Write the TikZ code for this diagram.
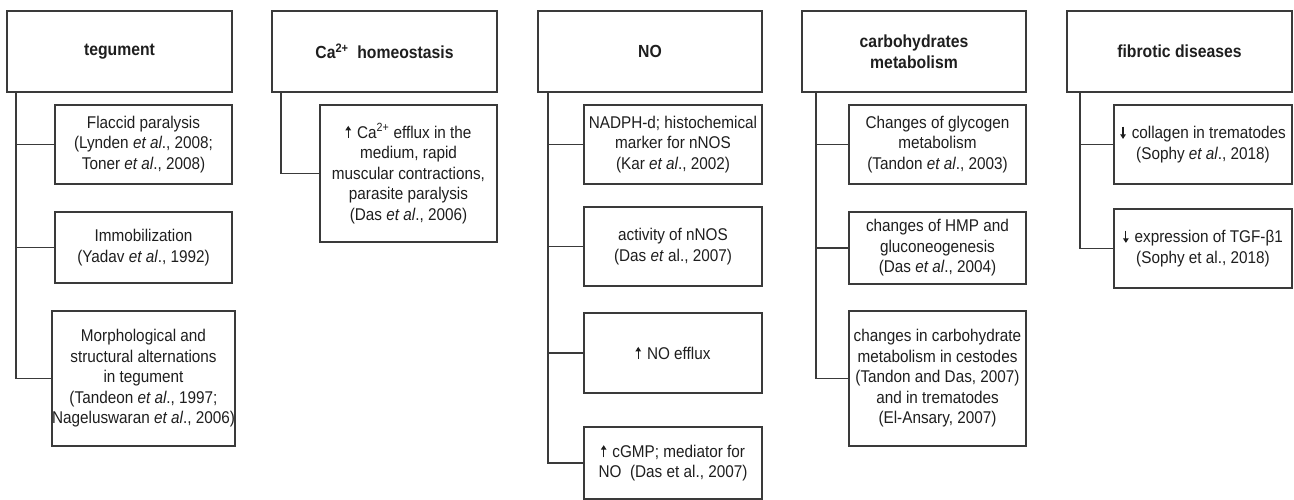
\documentclass[tikz,border=0pt]{standalone}
\usepackage{fontspec}
\usetikzlibrary{arrows.meta}
\setmainfont[FakeStretch=0.9]{Liberation Sans}
\definecolor{linec}{HTML}{3A3A3A}
\definecolor{textc}{HTML}{1E1E1E}
\newcommand{\uparr}{\tikz[baseline=0pt,x=1pt,y=1pt]\draw[line width=1.2pt,textc,-{Triangle[length=4.5pt,width=5.5pt]}] (0,0)--(0,12.2);\hspace{6pt}}
\newcommand{\dnarr}{\tikz[baseline=0pt,x=1pt,y=1pt]\draw[line width=1.2pt,textc,-{Triangle[length=4.5pt,width=5.5pt]}] (0,12.2)--(0,0);\hspace{6pt}}
\begin{document}
\begin{tikzpicture}[x=1pt,y=-1pt,
  box/.style={draw=linec, line width=1.2pt, rectangle, inner sep=0pt, align=center, text=textc},
  headbox/.style={box, minimum width=#1, minimum height=81, font=\fontsize{17.5}{21}\selectfont\bfseries},
  itembox/.style={box, font=\fontsize{17}{20.5}\selectfont},
  conn/.style={draw=linec, line width=1.2pt}
]
\useasboundingbox (0,0) rectangle (1294,500);

% Column 1: tegument
\node[headbox=225] (h1) at (119.5,51.5) {tegument};
\node[itembox, minimum width=177, minimum height=79] (a1) at (143.5,144.5)
  {Flaccid paralysis\\(Lynden \textit{et al}., 2008;\\Toner \textit{et al}., 2008)};
\node[itembox, minimum width=177, minimum height=71] (a2) at (143.5,247.5)
  {Immobilization\\(Yadav \textit{et al}., 1992)};
\node[itembox, minimum width=177, minimum height=135] (a3) at (143.5,378.5)
  {Morphological and\\structural alternations\\in tegument\\(Tandeon \textit{et al}., 1997;\\Nageluswaran \textit{et al}., 2006)};
\coordinate (t1) at (16,92);
\draw[conn] (t1) |- (a3.west);
\draw[conn] (t1 |- a1.west) -- (a1.west);
\draw[conn] (t1 |- a2.west) -- (a2.west);

% Column 2: Ca homeostasis
\node[headbox=225] (h2) at (384.5,51.5) {Ca\textsuperscript{2+}\ \ homeostasis};
\node[itembox, minimum width=177, minimum height=137] (b1) at (408.5,173.5)
  {\uparr Ca\textsuperscript{2+} efflux in the\\medium, rapid\\muscular contractions,\\parasite paralysis\\(Das \textit{et al}., 2006)};
\coordinate (t2) at (281,92);
\draw[conn] (t2) |- (b1.west);

% Column 3: NO
\node[headbox=224] (h3) at (650,51.5) {NO};
\node[itembox, minimum width=178, minimum height=79] (c1) at (673,144.5)
  {NADPH-d; histochemical\\marker for nNOS\\(Kar \textit{et al}., 2002)};
\node[itembox, minimum width=178, minimum height=79] (c2) at (673,246.5)
  {activity of nNOS\\(Das \textit{et} al., 2007)};
\node[itembox, minimum width=178, minimum height=80] (c3) at (673,353)
  {\uparr NO efflux};
\node[itembox, minimum width=178, minimum height=72] (c4) at (673,463)
  {\uparr cGMP; mediator for\\NO\ \ (Das et al., 2007)};
\coordinate (t3) at (548,92);
\draw[conn] (t3) |- (c4.west);
\draw[conn] (t3 |- c1.west) -- (c1.west);
\draw[conn] (t3 |- c2.west) -- (c2.west);
\draw[conn] (t3 |- c3.west) -- (c3.west);

% Column 4: carbohydrates metabolism
\node[headbox=224] (h4) at (914,51.5) {carbohydrates\\metabolism};
\node[itembox, minimum width=177, minimum height=79] (d1) at (937.5,144.5)
  {Changes of glycogen\\metabolism\\(Tandon \textit{et al}., 2003)};
\node[itembox, minimum width=177, minimum height=72] (d2) at (937.5,248)
  {changes of HMP and\\gluconeogenesis\\(Das \textit{et al}., 2004)};
\node[itembox, minimum width=177, minimum height=135] (d3) at (937.5,378.5)
  {changes in carbohydrate\\metabolism in cestodes\\(Tandon and Das, 2007)\\and in trematodes\\(El-Ansary, 2007)};
\coordinate (t4) at (816,92);
\draw[conn] (t4) |- (d3.west);
\draw[conn] (t4 |- d1.west) -- (d1.west);
\draw[conn] (t4 |- d2.west) -- (d2.west);

% Column 5: fibrotic diseases
\node[headbox=225] (h5) at (1179.5,51.5) {fibrotic diseases};
\node[itembox, minimum width=178, minimum height=79] (e1) at (1203,144.5)
  {\dnarr collagen in trematodes\\(Sophy \textit{et al}., 2018)};
\node[itembox, minimum width=178, minimum height=79] (e2) at (1203,248.5)
  {\dnarr expression of TGF-β1\\(Sophy et al., 2018)};
\coordinate (t5) at (1080,92);
\draw[conn] (t5) |- (e2.west);
\draw[conn] (t5 |- e1.west) -- (e1.west);
\end{tikzpicture}
\end{document}
